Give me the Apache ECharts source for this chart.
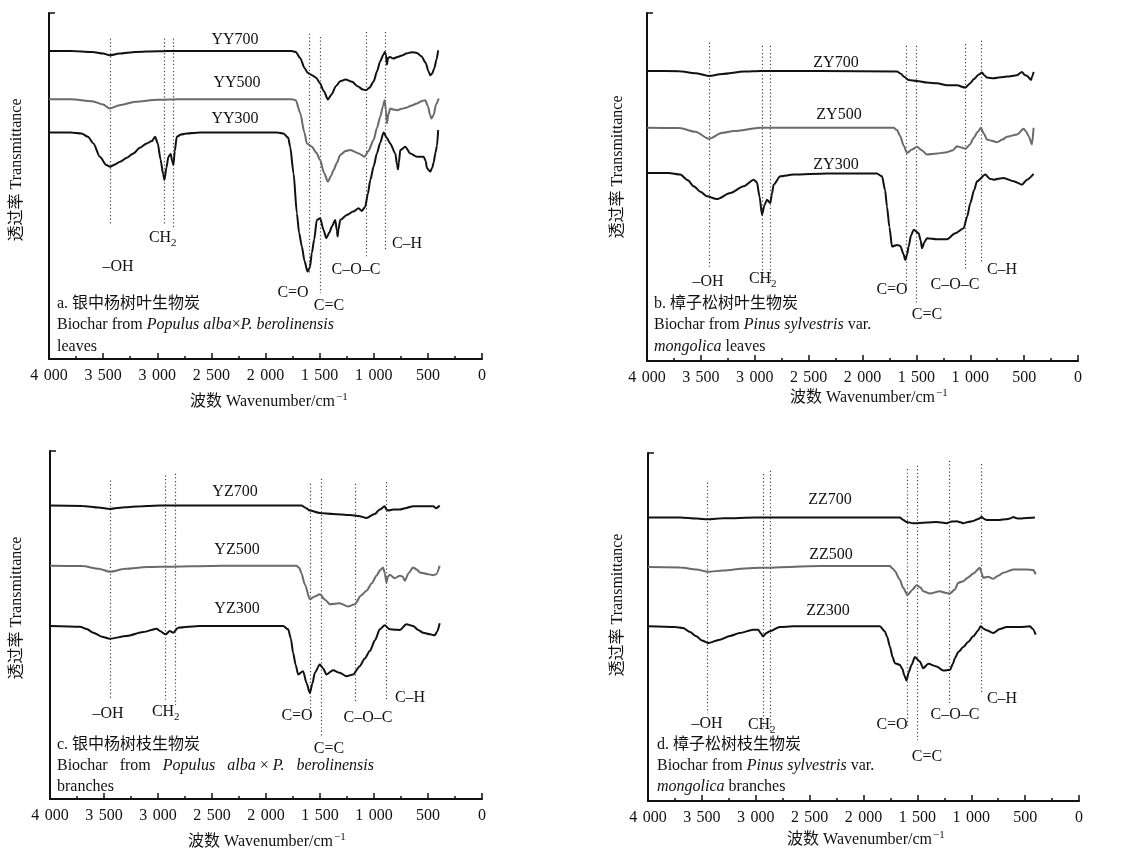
<!DOCTYPE html>
<html>
<head>
<meta charset="utf-8">
<script src="https://cdn.jsdelivr.net/npm/echarts@6/dist/echarts.min.js"></script>
<style>html,body{margin:0;padding:0;background:#fff}#c{width:1124px;height:851px}</style>
</head>
<body>
<div id="c"></div>
<script>
// ---------- Data: [wavenumber cm-1, transmittance (arbitrary units, offset)] ----------
const YY700 = [[4000,92.6],[3800,92.6],[3600,92.3],[3500,91.8],[3440,91.3],[3350,91.8],[3200,92.3],[3000,92.5],[2800,92.6],[2400,92.6],[2000,92.6],[1760,92.6],[1720,92.3],[1680,90.5],[1640,87.5],[1610,86.0],[1570,85.3],[1530,84.5],[1500,83.0],[1460,80.5],[1424,78.0],[1390,79.5],[1350,82],[1310,83.5],[1260,84.0],[1200,83.3],[1150,82.0],[1100,81.0],[1070,80.8],[1040,81.5],[1000,83.5],[970,86.5],[940,89.5],[910,91.5],[898,92.3],[888,91.5],[878,88.5],[868,90.5],[850,90.8],[820,90.3],[780,90.8],[740,91.2],[700,91.8],[650,92.2],[600,92.0],[560,91.0],[520,89.0],[495,86.5],[478,85.3],[460,85.8],[440,87.5],[420,90.0],[405,92.8]];
const YY500 = [[4000,78.1],[3800,78.1],[3600,77.5],[3500,76.5],[3440,75.3],[3350,76.3],[3200,77.3],[3000,77.9],[2800,78.1],[2000,78.1],[1760,78.1],[1720,77.8],[1680,74],[1640,68],[1618,64.8],[1572,63.8],[1530,62],[1495,59.8],[1460,56.0],[1424,53.3],[1395,55],[1371,56.8],[1340,59],[1310,61.3],[1260,62.5],[1217,62.8],[1140,61.8],[1085,60.8],[1050,62.5],[1002,65.8],[970,69.5],[940,72.8],[915,76],[900,77.8],[888,75],[878,70.8],[865,73.5],[848,75.3],[820,75.0],[786,74.8],[740,75.2],[693,75.6],[650,76.2],[601,76.8],[560,77.5],[524,77.8],[500,76],[480,73.5],[468,72.3],[447,73.3],[425,76.5],[400,78.3]];
const YY300 = [[4000,68.1],[3800,68.1],[3700,67.8],[3640,66.8],[3590,64.8],[3530,60.8],[3470,58.3],[3436,57.8],[3390,58.5],[3344,59.3],[3280,60.5],[3221,61.8],[3160,63.5],[3097,64.8],[3050,65.5],[3020,66.8],[2995,64.8],[2970,60],[2945,55.5],[2934,53.8],[2915,57.5],[2897,60.8],[2876,61.6],[2862,59.5],[2851,58.3],[2838,62.5],[2820,66.8],[2780,67.5],[2728,67.8],[2604,68.1],[2200,68.1],[1895,68.1],[1834,67.8],[1790,66.5],[1772,63.8],[1741,55.8],[1710,43.8],[1690,38],[1664,33.8],[1640,29.5],[1612,26.3],[1590,27.5],[1572,31.8],[1550,36],[1526,41.8],[1495,42.3],[1464,38.8],[1439,36.3],[1410,38],[1387,39.8],[1356,41.8],[1340,38.5],[1334,36.8],[1325,39],[1310,41.8],[1248,43.3],[1190,44.3],[1140,45.3],[1110,44.5],[1079,45.8],[1055,49.5],[1032,53.8],[1000,58],[971,61.8],[940,65],[909,68.1],[880,66.5],[848,64.8],[801,61.8],[785,58.5],[777,57],[768,59],[755,62.8],[709,63.8],[663,61.8],[601,60.8],[539,60.8],[520,59.5],[508,57.3],[478,56.3],[460,57.5],[447,59],[430,62],[416,64],[405,68.8]];

const ZY700 = [[4000,86.7],[3700,86.6],[3550,86.0],[3428,85.2],[3300,85.8],[3100,86.5],[2949,86.7],[2400,86.7],[1680,86.5],[1640,85.8],[1618,85.0],[1572,84.0],[1494,83.7],[1402,83.2],[1309,83.0],[1216,82.4],[1123,82.4],[1046,81.7],[1000,83],[968,84.2],[920,85.6],[891,86.2],[870,85.4],[845,84.7],[783,84.5],[720,84.8],[659,85.0],[566,85.4],[520,86.4],[495,85.5],[473,85.2],[436,84.0],[425,85],[412,86.4]];
const ZY500 = [[4000,69.7],[3700,69.6],[3550,68.5],[3428,66.4],[3300,68.2],[3196,68.7],[2949,69.7],[2400,69.7],[1711,69.7],[1680,69],[1649,67.2],[1620,64.5],[1587,62.2],[1540,63.2],[1494,64.0],[1450,63],[1402,61.7],[1309,62.0],[1216,62.4],[1160,63],[1123,64.2],[1080,63.8],[1046,63.4],[1000,64.8],[968,66.7],[930,68.5],[900,69.7],[875,68],[845,66.2],[800,65.8],[752,65.4],[700,66.2],[659,67.0],[566,67.7],[504,69.4],[480,68.5],[458,67.2],[427,64.7],[412,69.7]];
const ZY300 = [[4000,56.2],[3800,56.2],[3691,55.7],[3620,54],[3567,52.2],[3500,50.5],[3443,49.2],[3351,48.4],[3227,50.2],[3103,52.2],[3010,54.2],[2980,53.4],[2955,49],[2933,43.7],[2910,46.5],[2887,48.2],[2856,47.2],[2840,50],[2825,52.7],[2763,55.2],[2639,55.7],[2330,56.0],[1866,56.0],[1819,55.2],[1790,51],[1773,46.2],[1750,40],[1726,34.2],[1680,34.7],[1649,34.4],[1620,32],[1603,30.2],[1585,32],[1572,34.2],[1550,37.5],[1525,39.2],[1479,38.2],[1460,36],[1448,33.7],[1425,35.5],[1402,36.7],[1309,36.4],[1216,36.4],[1139,38.2],[1061,39.7],[1030,43],[999,47.2],[965,51],[937,53.7],[860,55.7],[820,54.5],[783,54.2],[690,54.7],[597,53.7],[520,52.7],[473,54.2],[412,55.9]];

const YZ700 = [[4000,87.7],[3700,87.6],[3550,87.1],[3445,86.7],[3300,87.2],[3100,87.6],[2982,87.7],[2400,87.7],[1672,87.7],[1630,87.0],[1594,86.2],[1502,85.5],[1379,85.2],[1224,84.9],[1132,84.5],[1070,84.0],[993,85.2],[947,86.5],[901,87.5],[885,86.5],[870,86.2],[820,86.5],[762,86.5],[700,87.0],[638,87.5],[515,87.5],[453,87.5],[423,86.9],[392,87.7]];
const YZ500 = [[4000,69.7],[3700,69.6],[3550,68.8],[3445,67.9],[3300,68.8],[3100,69.3],[2982,69.4],[2400,69.7],[1718,69.7],[1690,69],[1672,67.5],[1641,64.2],[1594,59.7],[1550,60.5],[1502,61.2],[1450,59.5],[1409,58.2],[1317,58.5],[1240,57.5],[1178,58.2],[1120,60.8],[1070,62.2],[1020,64.5],[978,66.7],[940,68.5],[916,69.2],[900,67.5],[885,64.7],[870,66.5],[854,67.0],[808,66.0],[762,66.7],[735,66.5],[715,65.2],[680,67.5],[638,69.2],[600,68.5],[577,67.7],[500,67.2],[453,66.9],[423,67.2],[392,69.7]];
const YZ300 = [[4000,51.7],[3722,51.5],[3660,50.8],[3599,49.7],[3520,48.5],[3445,47.9],[3291,48.7],[3136,49.9],[3013,50.9],[2982,50.2],[2930,49.2],[2890,50.2],[2859,49.7],[2813,51.2],[2612,51.7],[2200,51.7],[1841,51.7],[1795,50.7],[1770,48],[1749,43.7],[1725,40],[1702,37.2],[1656,38.2],[1625,34.7],[1594,31.7],[1570,34.5],[1548,37.7],[1502,40.2],[1470,39],[1440,37.2],[1379,38.5],[1317,37.7],[1255,36.7],[1193,37.2],[1132,39.7],[1085,42],[1039,44.2],[990,47.5],[947,50.7],[901,51.9],[854,50.7],[800,50.6],[762,50.5],[700,52.2],[638,51.7],[590,50.5],[546,49.7],[480,49.2],[438,48.9],[415,50],[392,52.5]];

const ZZ700 = [[4000,84.7],[3700,84.7],[3550,84.4],[3443,84.2],[3300,84.5],[3000,84.7],[2400,84.7],[1663,84.7],[1630,84.0],[1601,83.4],[1539,83.0],[1415,83.2],[1322,83.4],[1229,83.0],[1180,83.5],[1136,83.6],[1100,83.3],[1074,83.0],[1030,83.4],[981,83.7],[935,84.3],[904,84.9],[880,84.3],[858,84.0],[800,84.0],[734,84.0],[680,84.2],[641,84.4],[610,84.9],[580,84.5],[548,84.4],[486,84.6],[409,84.7]];
const ZZ500 = [[4000,69.9],[3700,69.8],[3550,69.2],[3443,68.5],[3300,68.9],[3100,69.5],[2963,69.7],[2400,70.2],[1755,70.2],[1730,69.5],[1709,68.7],[1663,66.2],[1632,63.7],[1591,61.5],[1550,63],[1508,64.5],[1470,63.8],[1446,62.7],[1384,62.0],[1291,62.7],[1240,62.2],[1198,62.0],[1152,63.2],[1121,65.2],[1074,65.7],[1030,66.8],[981,68.0],[920,69.7],[905,68.2],[889,66.7],[842,67.0],[796,66.4],[750,67.3],[703,68.2],[610,69.2],[486,69.2],[424,69.0],[402,67.7]];
const ZZ300 = [[4000,52.2],[3750,52.0],[3675,51.7],[3610,50.5],[3551,49.2],[3500,48.0],[3443,47.2],[3334,48.2],[3240,49.3],[3149,50.2],[3025,51.2],[2978,51.2],[2955,50.2],[2932,49.2],[2900,50.2],[2870,50.7],[2777,52.0],[2653,52.2],[2200,52.2],[1848,52.2],[1802,50.7],[1780,49],[1755,46.2],[1730,43],[1709,41.2],[1663,40.7],[1640,39.5],[1620,37.5],[1601,36.0],[1580,38.5],[1554,40.7],[1523,43.0],[1477,41.7],[1446,39.7],[1399,41.0],[1322,40.2],[1260,39.0],[1198,39.2],[1170,41],[1152,42.7],[1120,44.5],[1074,46.0],[1030,47.5],[981,49.2],[940,50.8],[913,52.2],[885,51.5],[858,51.0],[796,50.2],[734,51.4],[672,52.0],[548,52.0],[455,52.2],[430,51.5],[402,49.7]];

// Reference band lines: [wavenumber, top, bottom] (transmittance units)
const bandsA = [[3436,96.3,40.3],[2934,96.3,40.3],[2851,96.3,39.5],[1593,97.8,25.8],[1495,96.8,19.8],[1069,98.3,30.3],[894,98.3,32.3]];
const bandsB = [[3422,95.2,28.2],[2927,94.2,23.2],[2856,94.2,23.2],[1597,94.2,22.2],[1500,94.2,17.2],[1046,94.7,27.2],[897,95.7,29.2]];
const bandsC = [[3445,95.2,29.7],[2930,96.7,29.2],[2837,97.2,27.7],[1588,94.2,24.7],[1493,95.7,18.7],[1178,94.2,28.7],[891,94.7,29.7]];
const bandsD = [[3449,95.2,26.2],[2932,97.7,21.2],[2864,98.7,20.7],[1591,99.2,22.2],[1502,100.2,18.2],[1204,101.7,28.7],[904,100.7,32.2]];

const xTickStep = 500;
const seriesNames = [['YY700','YY500','YY300'],['ZY700','ZY500','ZY300'],['YZ700','YZ500','YZ300'],['ZZ700','ZZ500','ZZ300']];
const panelData = [[YY700,YY500,YY300],[ZY700,ZY500,ZY300],[YZ700,YZ500,YZ300],[ZZ700,ZZ500,ZZ300]];
const panelBands = [bandsA,bandsB,bandsC,bandsD];

// ---------- Layout / style ----------
const FONT = '"Liberation Serif","Times New Roman","Noto Sans CJK SC",serif';
const BLACK = '#111', GRAY = '#6a6a6a';
const grids = [
  {left:49, top:13, width:433, height:346},
  {left:647, top:13, width:431, height:348},
  {left:50, top:451, width:432, height:348},
  {left:648, top:453, width:431, height:348}
];

function fmt(v){
  if (v >= 1000) return Math.floor(v/1000) + '\u2004' + String(v%1000).padStart(3,'0');
  return String(v);
}

const xAxes = grids.map((g,i)=>({
  gridIndex:i, type:'value', min:0, max:4000, interval:xTickStep, inverse:true,
  axisLine:{show:true, onZero:false, lineStyle:{color:BLACK, width:2}},
  axisTick:{show:true, inside:true, length:6, lineStyle:{color:BLACK, width:1.5}},
  minorTick:{show:true, splitNumber:2, length:3, lineStyle:{color:BLACK, width:1.5}},
  splitLine:{show:false},
  axisLabel:{show:true, margin:9, color:BLACK, fontFamily:FONT, fontSize:16, formatter:fmt, showMaxLabel:true, showMinLabel:true}
}));
const yAxes = grids.map((g,i)=>({
  gridIndex:i, type:'value', min:0, max:104, interval:104, position:'left',
  axisLine:{show:true, onZero:false, lineStyle:{color:BLACK, width:2}},
  axisTick:{show:true, inside:true, length:6, lineStyle:{color:BLACK, width:1.5}},
  axisLabel:{show:false}, splitLine:{show:false}
}));

const series = [];
panelData.forEach((arr,p)=>{
  arr.forEach((d,k)=>{
    series.push({
      type:'line', name:seriesNames[p][k], xAxisIndex:p, yAxisIndex:p, data:d,
      showSymbol:false, symbol:'none', smooth:0.25, smoothMonotone:'x',
      lineStyle:{color: k===1 ? GRAY : BLACK, width:2}, z:3, silent:true
    });
  });
  series.push({
    type:'lines', coordinateSystem:'cartesian2d', xAxisIndex:p, yAxisIndex:p, silent:true,
    data: panelBands[p].map(b=>({coords:[[b[0],b[1]],[b[0],b[2]]]})),
    lineStyle:{color:'#444', width:1.2, type:[1.2,2.4], opacity:1}, z:2
  });
});

// ---------- Annotations ----------
const graphic = [];
function txt(x,y,text,opt){
  opt = opt || {};
  graphic.push({type:'text', x:x, y:y, rotation:opt.rot||0, silent:true, z:10,
    style:{text:text, fill:BLACK, font:(opt.italic?'italic ':'') + (opt.size||16)+'px '+FONT,
      align:opt.align||'center', verticalAlign:opt.va||'middle', rich:opt.rich}});
}
function ch2(x,y){ txt(x-5,y,'CH'); txt(x+6,y+5,'2',{size:11,align:'left'}); }
function xname(xr,y){ txt(xr,y,'波数 Wavenumber/cm',{align:'right'}); txt(xr+1,y-5,'−1',{size:11,align:'left'}); }
function yname(x,y){ txt(x,y,'透过率 Transmittance',{rot:Math.PI/2}); }
const richI = {i:{fontFamily:FONT, fontSize:16, fontStyle:'italic', fill:BLACK}, n:{fontFamily:FONT, fontSize:16, fill:BLACK}};

// Panel a
txt(235,40,'YY700'); txt(237,83,'YY500'); txt(235,119,'YY300');
ch2(165,238); txt(118,267,'–OH'); txt(293,293,'C=O'); txt(329,306,'C=C'); txt(356,270,'C–O–C'); txt(407,244,'C–H');
txt(57,304,'a. 银中杨树叶生物炭',{align:'left'});
txt(57,325,'{n|Biochar from }{i|Populus alba}{n|×}{i|P. berolinensis}',{align:'left',rich:richI});
txt(57,347,'leaves',{align:'left'});
xname(335,402); yname(17,170);

// Panel b
txt(836,63,'ZY700'); txt(839,115,'ZY500'); txt(836,165,'ZY300');
txt(708,282,'–OH'); ch2(765,279); txt(892,290,'C=O'); txt(927,315,'C=C'); txt(955,285,'C–O–C'); txt(1002,270,'C–H');
txt(654,304,'b. 樟子松树叶生物炭',{align:'left'});
txt(654,325,'{n|Biochar from }{i|Pinus sylvestris}{n| var.}',{align:'left',rich:richI});
txt(654,347,'{i|mongolica}{n| leaves}',{align:'left',rich:richI});
xname(935,398); yname(618,167);

// Panel c
txt(235,492,'YZ700'); txt(237,550,'YZ500'); txt(237,609,'YZ300');
txt(108,714,'–OH'); ch2(168,712); txt(297,716,'C=O'); txt(329,749,'C=C'); txt(368,718,'C–O–C'); txt(410,698,'C–H');
txt(57,745,'c. 银中杨树枝生物炭',{align:'left'});
txt(57,766,'{n|Biochar   from   }{i|Populus   alba}{n| × }{i|P.   berolinensis}',{align:'left',rich:richI});
txt(57,787,'branches',{align:'left'});
xname(333,842); yname(17,608);

// Panel d
txt(830,500,'ZZ700'); txt(831,555,'ZZ500'); txt(828,611,'ZZ300');
txt(707,724,'–OH'); ch2(764,725); txt(892,725,'C=O'); txt(927,757,'C=C'); txt(955,715,'C–O–C'); txt(1002,699,'C–H');
txt(657,745,'d. 樟子松树枝生物炭',{align:'left'});
txt(657,766,'{n|Biochar from }{i|Pinus sylvestris}{n| var.}',{align:'left',rich:richI});
txt(657,787,'{i|mongolica}{n| branches}',{align:'left',rich:richI});
xname(932,840); yname(618,605);

const chart = echarts.init(document.getElementById('c'), null, {renderer:'canvas'});
chart.setOption({
  backgroundColor:'#fff', animation:false,
  grid:grids, xAxis:xAxes, yAxis:yAxes, series:series, graphic:graphic
});
</script>
</body>
</html>
